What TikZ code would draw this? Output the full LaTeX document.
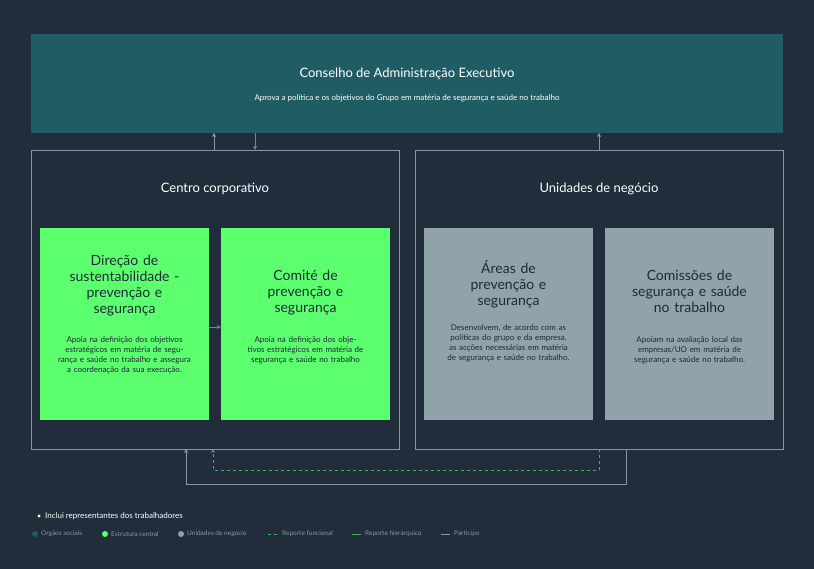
\documentclass[tikz,border=0pt]{standalone}
\usepackage{fontspec}
\setmainfont{Lato}
\usetikzlibrary{arrows.meta}
\definecolor{bg}{HTML}{212D3B}
\definecolor{teal}{HTML}{1F5C63}
\definecolor{frame}{HTML}{8A96A3}
\definecolor{grn}{HTML}{5CFF6E}
\definecolor{dgrn}{HTML}{3FAF55}
\definecolor{gry}{HTML}{8FA3A8}
\definecolor{txt}{HTML}{1E2A38}
\tikzset{
 gbox/.style={fill=grn,draw=none},
 ubox/.style={fill=gry,draw=none},
 frm/.style={draw=frame,line width=0.8pt},
 part/.style={draw=frame,line width=0.8pt,-{Stealth[length=4pt,width=4pt]}},
 hier/.style={draw=dgrn,line width=0.8pt,-{Stealth[length=4pt,width=4pt]}},
 func/.style={draw=dgrn,line width=0.8pt,dashed,-{Stealth[length=4pt,width=4pt]}},
 ttl/.style={text=txt,font=\fontsize{14}{16}\selectfont,align=center,text width=150pt},
 dsc/.style={text=txt,font=\fontsize{8}{10}\selectfont,align=center,text width=150pt},
 leg/.style={text=frame,font=\fontsize{6.5}{8}\selectfont,anchor=west,inner sep=0pt}
}
\begin{document}
\begin{tikzpicture}[x=1pt,y=-1pt]
\fill[bg] (0,0) rectangle (814,569);
\useasboundingbox (0,0) rectangle (814,569);
\fill[teal] (31,34) rectangle (783,133);
\node[text=white,font=\fontsize{13}{15}\selectfont] (ceo) at (407,74) {Conselho de Administração Executivo};
\node[text=white,font=\fontsize{8}{10}\selectfont] (ceod) at (407,98) {Aprova a política e os objetivos do Grupo em matéria de segurança e saúde no trabalho};
\coordinate (topb) at (0,133);
\draw[frm] (31,150) rectangle (399,449);
\draw[frm] (415,150) rectangle (783,449);
\node[text=white,font=\fontsize{13}{15}\selectfont] (cc) at (215,189) {Centro corporativo};
\node[text=white,font=\fontsize{13}{15}\selectfont] (un) at (599,189) {Unidades de negócio};
\node[gbox,minimum width=169pt,minimum height=192pt] (b1) at (124.5,324) {};
\node[gbox,minimum width=169pt,minimum height=192pt] (b2) at (305.5,324) {};
\node[ubox,minimum width=169pt,minimum height=192pt] (b3) at (508.5,324) {};
\node[ubox,minimum width=169pt,minimum height=192pt] (b4) at (689.5,324) {};
\node[ttl,anchor=north] at (124.5,252) {Direção de\\sustentabilidade -\\prevenção e\\segurança};
\node[dsc,anchor=north] at (124.5,333) {Apoia na definição dos objetivos estratégicos em matéria de segurança e saúde no trabalho e assegura a coordenação da sua execução.};
\node[ttl,anchor=north] at (305.5,267) {Comité de\\prevenção e\\segurança};
\node[dsc,anchor=north] at (305.5,333) {Apoia na definição dos objetivos estratégicos em matéria de segurança e saúde no trabalho};
\node[ttl,anchor=north] at (508.5,257) {Áreas de\\prevenção e\\segurança};
\node[dsc,anchor=north,text width=140pt] at (508.5,321) {Desenvolvem, de acordo com as políticas do grupo e da empresa, as acções necessárias em matéria de segurança e saúde no trabalho.};
\node[ttl,anchor=north] at (689.5,267) {Comissões de\\segurança e saúde\\no trabalho};
\node[dsc,anchor=north,text width=140pt] at (689.5,333) {Apoiam na avaliação local das empresas/UO em matéria de segurança e saúde no trabalho.};
% connectors
\draw[part] (214,150) -- (214,133);
\draw[hier] (255,133) -- (255,150);
\draw[part] (599,150) -- (599,133);
\draw[hier] (b1.east |- 0,327) -- (b2.west |- 0,327);
\draw[part] (626,449) -- (626,484) -- (186,484) -- (186,449);
\draw[func] (599,449) -- (599,470) -- (213,470) -- (213,449);
% legend
\fill[white] (39,516) circle (1.6pt);
\node[leg,text=white,font=\fontsize{8}{10}\selectfont] at (45,516) {Inclui representantes dos trabalhadores};
\fill[teal] (35,534) circle (3pt);
\node[leg] at (41,534) {Orgãos sociais};
\fill[grn] (105,534) circle (3pt);
\node[leg] at (111,534) {Estrutura central};
\fill[gry] (181,534) circle (3pt);
\node[leg] at (187,534) {Unidades de negócio};
\draw[dgrn,dashed,line width=0.8pt] (268,534) -- (279,534);
\node[leg] at (282,534) {Reporte funcional};
\draw[dgrn,line width=1pt] (352,534) -- (361,534);
\node[leg] at (365,534) {Reporte hierárquico};
\draw[frame,line width=1pt] (441,534) -- (450,534);
\node[leg] at (454,534) {Participo};
\end{tikzpicture}
\end{document}
